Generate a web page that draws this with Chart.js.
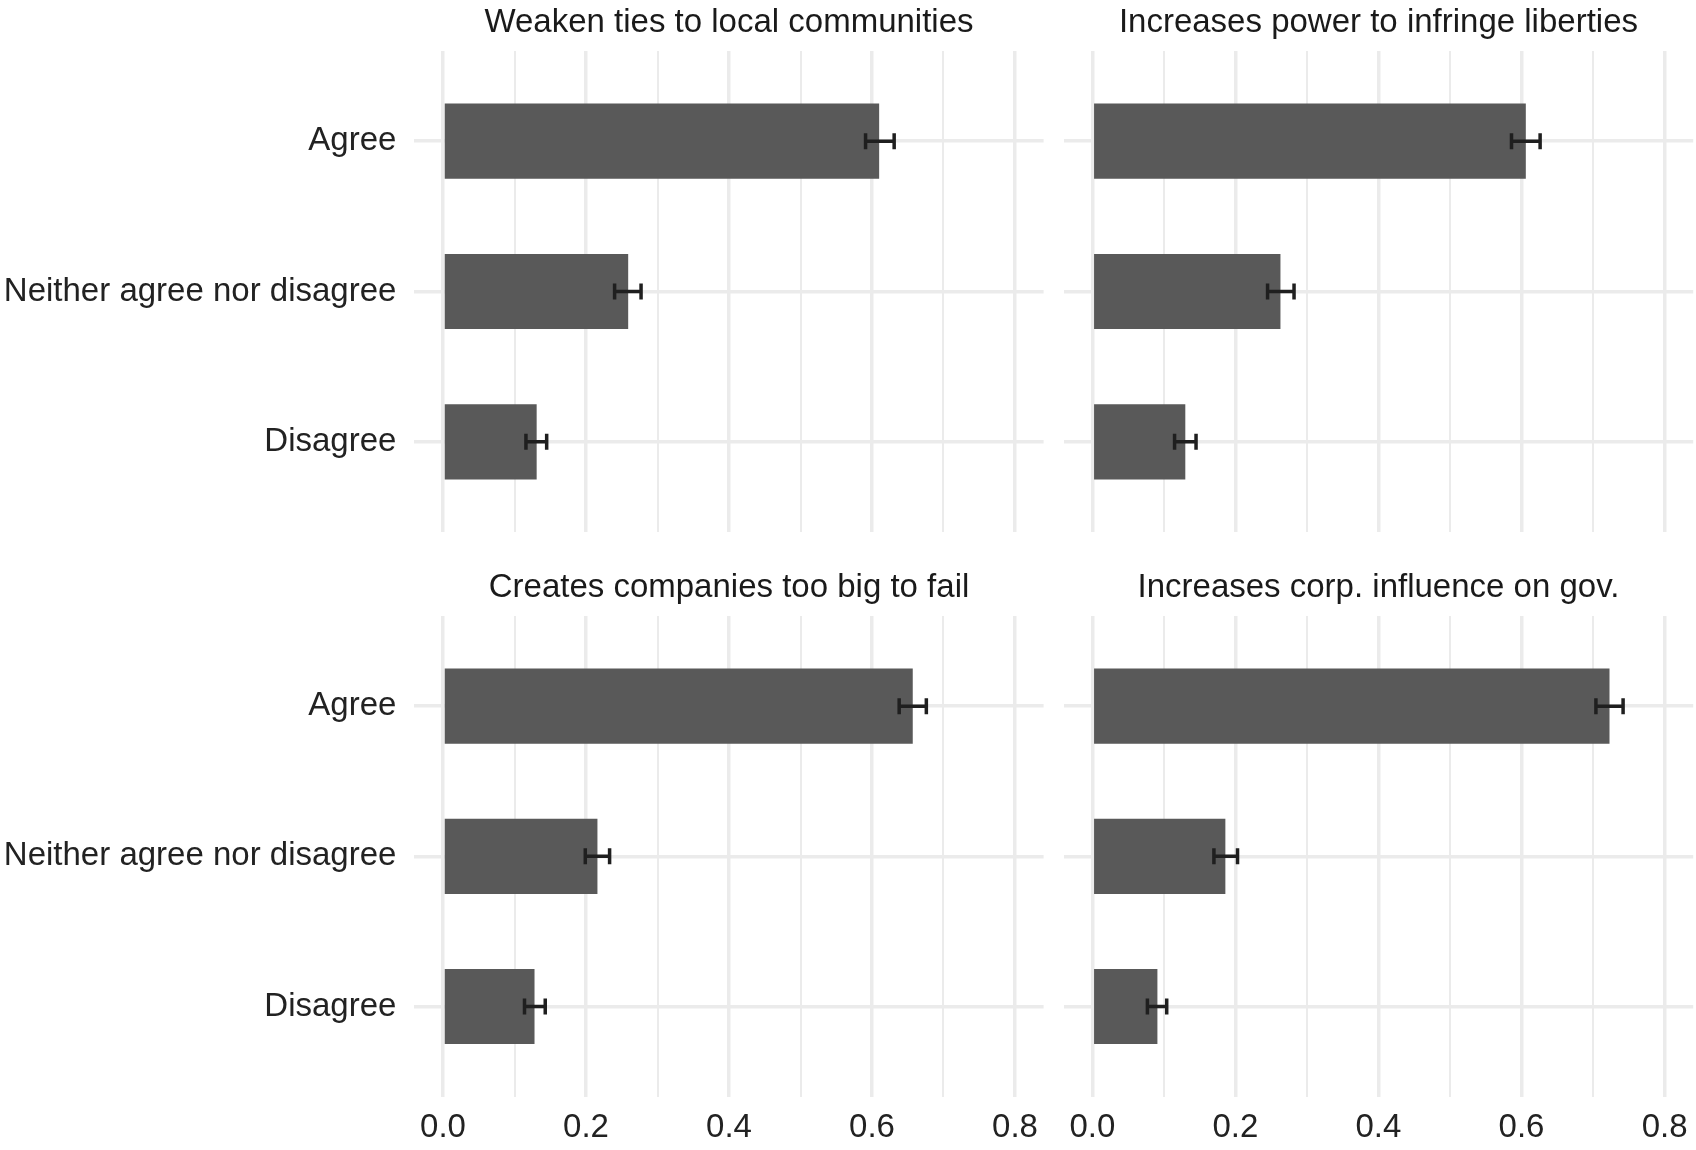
<!DOCTYPE html>
<html>
<head>
<meta charset="utf-8">
<script src="https://cdn.jsdelivr.net/npm/chart.js@4.4.1/dist/chart.umd.min.js"></script>
<style>
  body { margin: 0; background: #fff; }
  #wrap { position: relative; width: 1696px; height: 1150px; background: #fff; }
  canvas { position: absolute; }
</style>
</head>
<body>
<div id="wrap">
  <canvas id="c1" width="1054" height="532" style="left:0px;top:0px"></canvas>
  <canvas id="c2" width="642" height="532" style="left:1054px;top:0px"></canvas>
  <canvas id="c3" width="1054" height="585" style="left:0px;top:565px"></canvas>
  <canvas id="c4" width="642" height="585" style="left:1054px;top:565px"></canvas>
</div>
<script>
// data
const categories = ['Agree', 'Neither agree nor disagree', 'Disagree']
const panelTitles = [
  'Weaken ties to local communities',
  'Increases power to infringe liberties',
  'Creates companies too big to fail',
  'Increases corp. influence on gov.'
]

const weakenTies = [0.610, 0.259, 0.131]
const weakenTiesLo = [0.591, 0.240, 0.116]
const weakenTiesHi = [0.631, 0.277, 0.145]

const powerLiberties = [0.606, 0.263, 0.130]
const powerLibertiesLo = [0.586, 0.245, 0.115]
const powerLibertiesHi = [0.626, 0.282, 0.145]

const tooBig = [0.657, 0.216, 0.128]
const tooBigLo = [0.638, 0.199, 0.114]
const tooBigHi = [0.676, 0.233, 0.143]

const corpInfluence = [0.723, 0.186, 0.091]
const corpInfluenceLo = [0.704, 0.170, 0.077]
const corpInfluenceHi = [0.742, 0.203, 0.104]

const xTicks = [0, 0.1, 0.2, 0.3, 0.4, 0.5, 0.6, 0.7, 0.8]
const xTickLabels = ['0.0', '0.2', '0.4', '0.6', '0.8']

Chart.defaults.font.family = '"Liberation Sans", Arial, sans-serif'
Chart.defaults.font.size = 33
Chart.defaults.color = '#222222'

// Agree sits on top, like the ggplot original
const positions = categories.map((c, i) => categories.length - i)

const isMajor = (v) => Math.round(v * 10) % 2 === 0

const errorBars = {
  id: 'errorBars',
  afterDatasetsDraw(chart, args, opts) {
    const ctx = chart.ctx
    const x = chart.scales.x
    const y = chart.scales.y
    ctx.save()
    ctx.strokeStyle = '#1f1f1f'
    ctx.lineWidth = 3.5
    positions.forEach((p, i) => {
      const py = y.getPixelForValue(p)
      const x1 = x.getPixelForValue(opts.lo[i])
      const x2 = x.getPixelForValue(opts.hi[i])
      ctx.beginPath()
      ctx.moveTo(x1, py)
      ctx.lineTo(x2, py)
      ctx.moveTo(x1, py - 8)
      ctx.lineTo(x1, py + 8)
      ctx.moveTo(x2, py - 8)
      ctx.lineTo(x2, py + 8)
      ctx.stroke()
    })
    ctx.restore()
  }
}

function makePanel(id, title, values, lo, hi, showY, showX) {
  new Chart(document.getElementById(id), {
    type: 'bar',
    data: {
      datasets: [{
        data: values.map((v, i) => ({ x: v, y: positions[i] })),
        backgroundColor: '#595959',
        borderWidth: 0,
        barPercentage: 0.5,
        categoryPercentage: 1
      }]
    },
    options: {
      indexAxis: 'y',
      responsive: false,
      animation: false,
      devicePixelRatio: 1,
      layout: {
        autoPadding: false,
        padding: showY
          ? { left: 0, right: 10.4, top: 0, bottom: showX ? 2 : 0 }
          : { left: 9.7, right: 2.8, top: 0, bottom: showX ? 2 : 0 }
      },
      plugins: {
        legend: { display: false },
        tooltip: { enabled: false },
        title: {
          display: true,
          text: title,
          fullSize: false,
          color: '#1a1a1a',
          font: { size: 33, weight: 'normal', lineHeight: 1.2 },
          padding: { top: 3, bottom: 8.4 }
        },
        errorBars: { lo: lo, hi: hi }
      },
      scales: {
        x: {
          type: 'linear',
          min: -0.04,
          max: 0.84,
          offset: false,
          afterBuildTicks: (axis) => { axis.ticks = xTicks.map(v => ({ value: v })) },
          afterFit: (axis) => {
            axis.height = showX ? 51.3 : 0
            axis.paddingLeft = 0
            axis.paddingRight = 0
          },
          ticks: {
            display: showX,
            padding: 11.5,
            maxRotation: 0,
            autoSkip: false,
            callback: (v) => isMajor(v) ? xTickLabels[Math.round(v * 5)] : ''
          },
          grid: {
            color: '#ebebeb',
            offset: false,
            drawTicks: false,
            lineWidth: (c) => (c.tick && !isMajor(c.tick.value)) ? 2 : 3.5
          },
          border: { display: false }
        },
        y: {
          type: 'linear',
          min: 0.4,
          max: 3.6,
          offset: false,
          afterBuildTicks: (axis) => { axis.ticks = positions.map(p => ({ value: p })) },
          afterFit: (axis) => {
            axis.width = showY ? 414.4 : 0
            axis.paddingTop = 0
            axis.paddingBottom = 0
          },
          ticks: {
            display: showY,
            padding: 18,
            autoSkip: false,
            callback: (v) => categories[categories.length - v]
          },
          grid: { color: '#ebebeb', offset: false, lineWidth: 3.5, drawTicks: false },
          border: { display: false }
        }
      }
    },
    plugins: [errorBars]
  })
}

makePanel('c1', panelTitles[0], weakenTies, weakenTiesLo, weakenTiesHi, true, false)
makePanel('c2', panelTitles[1], powerLiberties, powerLibertiesLo, powerLibertiesHi, false, false)
makePanel('c3', panelTitles[2], tooBig, tooBigLo, tooBigHi, true, true)
makePanel('c4', panelTitles[3], corpInfluence, corpInfluenceLo, corpInfluenceHi, false, true)
</script>
</body>
</html>
